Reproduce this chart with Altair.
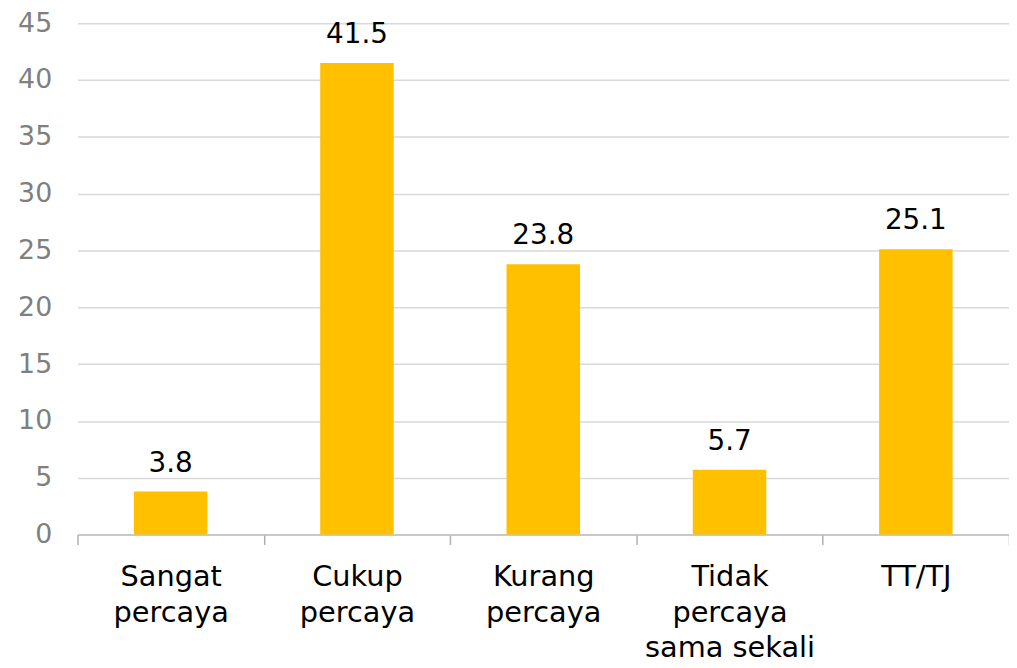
import altair as alt
import pandas as pd

categories = ["Sangat|percaya", "Cukup|percaya", "Kurang|percaya", "Tidak|percaya|sama sekali", "TT/TJ"]
values = [3.8, 41.5, 23.8, 5.7, 25.1]
value_labels = ["3.8", "41.5", "23.8", "5.7", "25.1"]
y_ticks = [0, 5, 10, 15, 20, 25, 30, 35, 40, 45]

df = pd.DataFrame({"cat": categories, "val": values, "lab": value_labels})

FONT = "DejaVu Sans"

x = alt.X("cat:N", sort=None, title=None,
          scale=alt.Scale(paddingInner=0, paddingOuter=0),
          axis=alt.Axis(labelAngle=0, labelExpr="split(datum.label, '|')",
                        labelFont=FONT, labelFontSize=29, labelColor="#000000",
                        labelLineHeight=36, labelPadding=18, labelBaseline="top",
                        tickBand="extent", ticks=True, tickSize=10, tickColor="#b0b0b0",
                        tickWidth=1.5, domainColor="#bfbfbf", domainWidth=1.5,
                        grid=False))
y = alt.Y("val:Q", title=None,
          scale=alt.Scale(domain=[0, 45], nice=False),
          axis=alt.Axis(values=y_ticks, labelFont=FONT, labelFontSize=27,
                        labelColor="#7f7f7f", labelPadding=26, ticks=False,
                        domain=False, grid=True, gridColor="#d9d9d9", gridWidth=1.5))

bars = alt.Chart(df).mark_bar(size=74, color="#FFC000").encode(x=x, y=y)
text = alt.Chart(df).mark_text(dy=-14, baseline="bottom", font=FONT, fontSize=28,
                               color="#000000").encode(x=x, y=y, text="lab:N")

chart = (bars + text).properties(
    width=938, height=515,
    autosize=alt.AutoSizeParams(type="none"),
    padding={"left": 70, "top": 13, "right": 0, "bottom": 130},
).configure_view(stroke=None)

chart.save("out.html", embed_options={"renderer": "svg", "actions": False})
